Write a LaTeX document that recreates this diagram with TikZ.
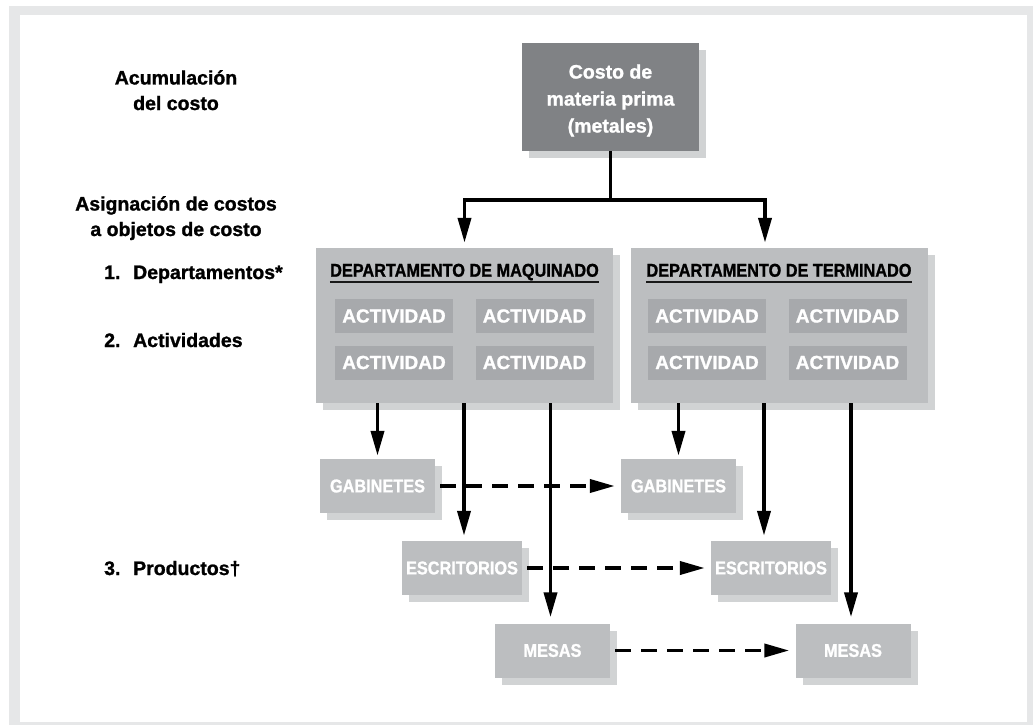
\documentclass[tikz,border=0pt]{standalone}
\usepackage{fontspec}
\setmainfont{Liberation Sans}[BoldFeatures={FakeBold=1.2}]
\newfontfamily\condfont{Liberation Sans}[FakeStretch=0.88,BoldFeatures={FakeBold=1.2}]
\usetikzlibrary{arrows.meta,shadows}
\definecolor{framec}{HTML}{E6E7E8}
\definecolor{costfill}{HTML}{808285}
\definecolor{deptfill}{HTML}{BCBEC0}
\definecolor{shadowc}{HTML}{D1D3D4}
\definecolor{actfill}{HTML}{A7A9AC}
\definecolor{inkc}{HTML}{000000}
\begin{document}
\begin{tikzpicture}[x=1pt,y=-1pt,
  sh/.style={drop shadow={shadow xshift=7pt,shadow yshift=-7pt,fill=shadowc,opacity=1}},
  costbox/.style={sh,fill=costfill,minimum width=177pt,minimum height=108pt,inner sep=0pt},
  costtext/.style={text=white,font=\fontsize{19.5}{27}\selectfont\bfseries,align=center,inner sep=0pt},
  deptbox/.style={sh,fill=deptfill,minimum width=297pt,minimum height=155pt,inner sep=0pt},
  depttitle/.style={font=\condfont\fontsize{18.5}{20}\selectfont\bfseries,text=inkc,inner sep=0pt},
  uline/.style={line width=1.8pt,draw=inkc!90},
  actbox/.style={fill=actfill,text=white,font=\fontsize{19}{22}\selectfont\bfseries,minimum width=118pt,minimum height=34pt,inner sep=0pt},
  prodbox/.style={sh,fill=deptfill,text=white,font=\condfont\fontsize{18.5}{20}\selectfont\bfseries,minimum width=115pt,minimum height=54pt,inner sep=0pt},
  lab/.style={font=\fontsize{19.5}{25.5}\selectfont\bfseries,text=inkc,inner sep=0pt,align=center},
  conn/.style={line width=3.8pt,draw=inkc},
  arr/.style={conn,-{Triangle[length=25pt,width=13pt]}},
  darr/.style={arr,dash pattern=on 16pt off 10pt,shorten <=5pt,shorten >=6pt}
]
\useasboundingbox (0,0) rectangle (1033,725);
\fill[framec] (9,6) rectangle (1033,725);
\fill[white] (20,15) rectangle (1027,722);

% left labels (base anchor = baseline of last line)
\node[lab,anchor=base] (acum) at (176,110) {Acumulación\\del costo};
\node[lab,anchor=base] (asig) at (176,236) {Asignación de costos\\a objetos de costo};
\node[lab,anchor=base west] (l1) at (104,279) {1.\hspace{12.7pt}Departamentos*};
\node[lab,anchor=base west] (l2) at (104,347) {2.\hspace{12.7pt}Actividades};
\node[lab,anchor=base west] (l3) at (104,575) {3.\hspace{12.7pt}Productos†};

% cost box
\node[costbox] (cost) at (610.5,97) {};
\node[costtext] (costt) at ([yshift=-3.5pt]cost.center) {Costo de\\materia prima\\(metales)};

% departments
\node[deptbox] (deptL) at (464.5,325.5) {};
\node[deptbox] (deptR) at (779,325.5) {};
\node[depttitle,anchor=base] (tL) at (464.5,276.7) {DEPARTAMENTO DE MAQUINADO};
\node[depttitle,anchor=base] (tR) at (779,276.7) {DEPARTAMENTO DE TERMINADO};
\draw[uline] ([yshift=-5.6pt]tL.base west) -- ([yshift=-5.6pt]tL.base east);
\draw[uline] ([yshift=-5.6pt]tR.base west) -- ([yshift=-5.6pt]tR.base east);

% activities
\node[actbox] (aL1) at (394,316) {ACTIVIDAD};
\node[actbox] (aL2) at (534.5,316) {ACTIVIDAD};
\node[actbox] (aL3) at (394,362.5) {ACTIVIDAD};
\node[actbox] (aL4) at (534.5,362.5) {ACTIVIDAD};
\node[actbox] (aR1) at (707,316) {ACTIVIDAD};
\node[actbox] (aR2) at (847.5,316) {ACTIVIDAD};
\node[actbox] (aR3) at (707,362.5) {ACTIVIDAD};
\node[actbox] (aR4) at (847.5,362.5) {ACTIVIDAD};

% products
\node[prodbox] (gabL) at (377.5,486) {GABINETES};
\node[prodbox] (gabR) at (678.5,486) {GABINETES};
\node[prodbox,minimum width=120pt] (escL) at (462,568) {ESCRITORIOS};
\node[prodbox,minimum width=120pt] (escR) at (771,568) {ESCRITORIOS};
\node[prodbox] (mesL) at (552.5,650.5) {MESAS};
\node[prodbox] (mesR) at (853,650.5) {MESAS};

% connectors from cost box
\draw[conn] (cost.south) -- ++(0,49) coordinate (split);
\draw[arr,shorten >=5pt] (split) -| (deptL.north);
\draw[arr,shorten >=5pt] (split) -| ([xshift=-14pt]deptR.north);

% department to products
\draw[arr,shorten >=3pt] (gabL.north |- deptL.south) -- (gabL.north);
\draw[arr,shorten >=5pt] ([xshift=2pt]escL.north |- deptL.south) -- ([xshift=2pt]escL.north);
\draw[arr,shorten >=6pt] ([xshift=-2pt]mesL.north |- deptL.south) -- ([xshift=-2pt]mesL.north);
\draw[arr,shorten >=3pt] (gabR.north |- deptR.south) -- (gabR.north);
\draw[arr,shorten >=5pt] ([xshift=-7pt]escR.north |- deptR.south) -- ([xshift=-7pt]escR.north);
\draw[arr,shorten >=6pt] ([xshift=-2pt]mesR.north |- deptR.south) -- ([xshift=-2pt]mesR.north);

% dashed transfers
\draw[darr] (gabL.east) -- (gabR.west);
\draw[darr] (escL.east) -- (escR.west);
\draw[darr] (mesL.east) -- (mesR.west);
\end{tikzpicture}
\end{document}
